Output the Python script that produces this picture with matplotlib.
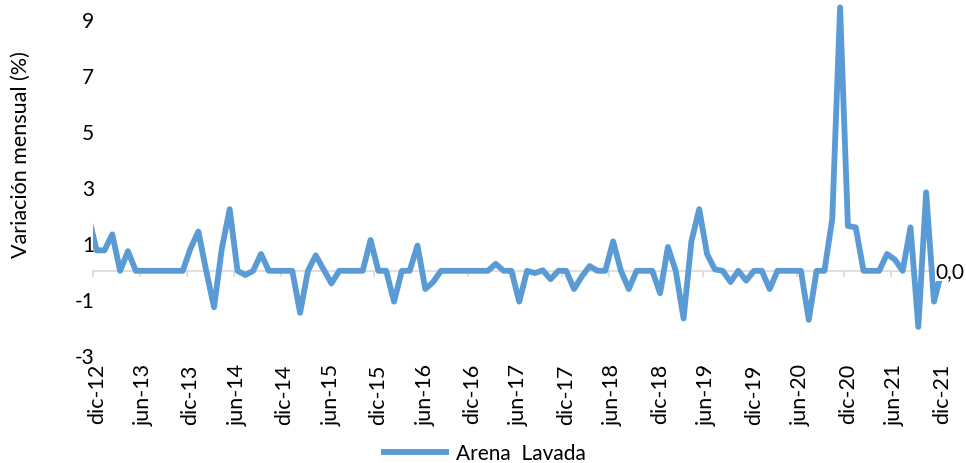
import numpy as np
import matplotlib
matplotlib.use("Agg")
import matplotlib.pyplot as plt

plt.rcParams['font.family'] = ['Lato', 'DejaVu Sans']
plt.rcParams['axes.unicode_minus'] = False

# variación mensual (%), nov-12 .. dic-21 (nov-12 queda fuera del eje)
valores = [
    1.9,
    0.73, 0.73, 1.3, 0.0, 0.7, 0.0,
    0.0, 0.0, 0.0, 0.0, 0.0, 0.0,
    0.8, 1.4, 0.0, -1.3, 0.8, 2.2,
    0.0, -0.15, 0.0, 0.6, 0.0, 0.0,
    0.0, 0.0, -1.5, 0.0, 0.55, 0.05,
    -0.45, 0.0, 0.0, 0.0, 0.0, 1.1,
    0.0, 0.0, -1.1, 0.0, 0.0, 0.9,
    -0.65, -0.4, 0.0, 0.0, 0.0, 0.0,
    0.0, 0.0, 0.0, 0.25, 0.0, 0.0,
    -1.1, 0.0, -0.08, 0.02, -0.3, 0.0,
    0.0, -0.65, -0.2, 0.17, 0.0, 0.0,
    1.05, 0.0, -0.65, 0.0, 0.0, 0.0,
    -0.8, 0.85, 0.0, -1.7, 1.05, 2.2,
    0.6, 0.05, 0.0, -0.4, 0.0, -0.35,
    0.0, 0.0, -0.65, 0.0, 0.0, 0.0,
    0.0, -1.75, 0.0, 0.0, 1.85, 9.4,
    1.6, 1.55, 0.0, 0.0, 0.0, 0.6,
    0.4, 0.0, 1.55, -2.0, 2.8, -1.1,
    0.0,
]
etiquetas = ["dic-12", "jun-13", "dic-13", "jun-14", "dic-14", "jun-15",
             "dic-15", "jun-16", "dic-16", "jun-17", "dic-17", "jun-18",
             "dic-18", "jun-19", "dic-19", "jun-20", "dic-20", "jun-21",
             "dic-21"]
y_ticks = [-3, -1, 1, 3, 5, 7, 9]

x = np.arange(len(valores)) - 1  # dic-12 -> 0
azul = '#5B9BD5'
gris = '#D9D9D9'

fig = plt.figure(figsize=(9.66, 4.64), dpi=100)
ax = fig.add_axes([0.096, 0.233, 0.883, 0.761])

ax.plot(x, valores, color=azul, lw=4.2, solid_joinstyle='round',
        solid_capstyle='butt', label='Arena  Lavada', zorder=3)

ax.set_xlim(-0.5, 108.5)
ax.set_ylim(-3, 9.6)
ax.set_yticks(y_ticks)
ax.tick_params(axis='y', length=0, pad=-1, labelsize=15)

for s in ['left', 'right', 'top']:
    ax.spines[s].set_visible(False)
ax.spines['bottom'].set_position(('data', 0))
ax.spines['bottom'].set_color(gris)
ax.spines['bottom'].set_linewidth(1.2)
ax.set_xticks(np.arange(-0.5, 109, 6))
ax.tick_params(axis='x', length=4.5, width=1.2, color=gris, labelbottom=False)

sec = ax.secondary_xaxis(0.0)
sec.set_xticks(np.arange(0, 109, 6), labels=etiquetas, rotation=90)
sec.tick_params(length=0, pad=6, labelsize=15.5)
sec.spines['bottom'].set_visible(False)

ax.set_ylabel('Variación mensual (%)', fontsize=15.5)
ax.yaxis.set_label_coords(-0.072, 0.57)

ax.annotate('0,0', xy=(x[-1], valores[-1]), xytext=(-6, 0),
            textcoords='offset pixels', ha='left', va='center', fontsize=15,
            bbox=dict(facecolor='white', edgecolor='none', pad=0.5),
            zorder=4, annotation_clip=False)

fig.legend(loc='lower center', bbox_to_anchor=(0.5, -0.04), frameon=False,
           fontsize=15, handlelength=3.3, handletextpad=0.3)

fig.savefig('out.png', dpi=100)
